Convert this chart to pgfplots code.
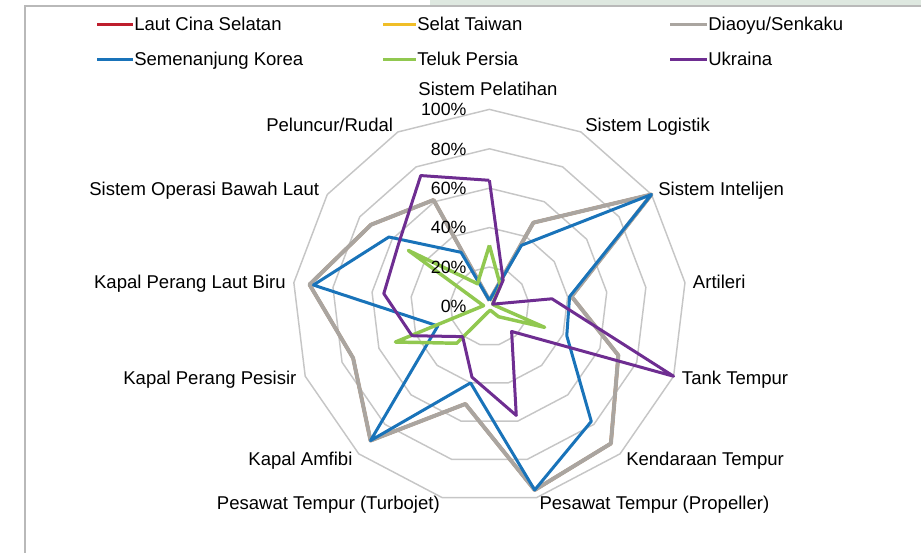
\documentclass[border=0pt]{standalone}
\usepackage{pgfplots}
\pgfplotsset{compat=1.18}
\usepackage{fontspec}
\setmainfont{Liberation Sans}
\definecolor{cRed}{RGB}{190,30,45}
\definecolor{cYel}{RGB}{240,190,40}
\definecolor{cGray}{RGB}{170,165,160}
\definecolor{cBlue}{RGB}{25,115,185}
\definecolor{cGreen}{RGB}{145,200,80}
\definecolor{cPurp}{RGB}{110,45,145}
\definecolor{cRing}{RGB}{198,198,198}
\definecolor{cBorder}{RGB}{185,185,185}
\definecolor{cStrip}{RGB}{222,232,224}
\begin{document}
\begin{tikzpicture}
\useasboundingbox (0,0) rectangle (690.75pt,414.75pt);
\begin{axis}[at={(0,0)}, anchor=south west, scale only axis,
  width=690.75pt, height=414.75pt,
  xmin=-248.43, xmax=219.09, ymin=-125.18, ymax=155.53,
  hide axis, clip=false]
% polygon grid rings
\pgfplotsinvokeforeach{20,40,60,80,100}{
\addplot[data cs=polar, cRing, line width=1.1pt, line join=round] coordinates {
(90,#1)(62.3077,#1)(34.6154,#1)(6.9231,#1)(-20.7692,#1)(-48.4615,#1)(-76.1538,#1)
(-103.8462,#1)(-131.5385,#1)(-159.2308,#1)(-186.9231,#1)(-214.6154,#1)(-242.3077,#1)(-270,#1)};
}
% Laut Cina Selatan
\addplot[data cs=polar, cRed, line width=2.4pt, line join=round] coordinates {
(90,3)(62.3077,48)(34.6154,100)(6.9231,42)(-20.7692,70)(-48.4615,93)(-76.1538,96)
(-103.8462,51)(-131.5385,91)(-159.2308,74)(-186.9231,92)(-214.6154,73)(-242.3077,61)(-270,3)};
% Selat Taiwan
\addplot[data cs=polar, cYel, line width=2.4pt, line join=round] coordinates {
(90,3)(62.3077,48)(34.6154,100)(6.9231,42)(-20.7692,70)(-48.4615,93)(-76.1538,96)
(-103.8462,51)(-131.5385,91)(-159.2308,74)(-186.9231,92)(-214.6154,73)(-242.3077,61)(-270,3)};
% Diaoyu/Senkaku
\addplot[data cs=polar, cGray, line width=3pt, line join=round] coordinates {
(90,3)(62.3077,48)(34.6154,100)(6.9231,42)(-20.7692,70)(-48.4615,93)(-76.1538,96)
(-103.8462,51)(-131.5385,91)(-159.2308,74)(-186.9231,92)(-214.6154,73)(-242.3077,61)(-270,3)};
% Semenanjung Korea
\addplot[data cs=polar, cBlue, line width=2.25pt, line join=round] coordinates {
(90,3)(62.3077,35)(34.6154,100)(6.9231,41)(-20.7692,42)(-48.4615,78)(-76.1538,96)
(-103.8462,40)(-131.5385,91)(-159.2308,28)(-186.9231,90)(-214.6154,62)(-242.3077,31)(-270,3)};
% Teluk Persia
\addplot[data cs=polar, cGreen, line width=2.6pt, line join=round] coordinates {
(90,31)(62.3077,12)(34.6154,2)(6.9231,3)(-20.7692,30)(-48.4615,7)(-76.1538,2)
(-103.8462,3)(-131.5385,25)(-159.2308,51)(-186.9231,3)(-214.6154,50)(-242.3077,13)(-270,31)};
% Ukraina
\addplot[data cs=polar, cPurp, line width=2.25pt, line join=round] coordinates {
(90,64)(62.3077,15)(34.6154,2)(6.9231,32)(-20.7692,100)(-48.4615,17)(-76.1538,57)
(-103.8462,37)(-131.5385,20.5)(-159.2308,42)(-186.9231,54)(-214.6154,56)(-242.3077,75)(-270,64)};
\end{axis}
\begin{scope}[x=0.75pt,y=-0.75pt,shift={(0,414.75pt)}]
% frame
\fill[cStrip] (430,0) rectangle (921,5);
\draw[cBorder, line width=1.5pt] (24.5,553) -- (24.5,6) -- (921,6);
% legend
\tikzset{lg/.style={anchor=base west, inner sep=0pt, font=\fontsize{13.9}{16}\selectfont}}
\draw[cRed, line width=2.6pt] (97,24.3) -- (133,24.3);
\node[lg] at (134,30.8) {Laut Cina Selatan};
\draw[cYel, line width=2.6pt] (383,24.3) -- (416,24.3);
\node[lg] at (417,30.8) {Selat Taiwan};
\draw[cGray, line width=2.6pt] (670,24.3) -- (707,24.3);
\node[lg] at (708,30.8) {Diaoyu/Senkaku};
\draw[cBlue, line width=2.6pt] (97,59.5) -- (133,59.5);
\node[lg] at (134,66) {Semenanjung Korea};
\draw[cGreen, line width=2.6pt] (383,59.5) -- (416,59.5);
\node[lg] at (417,66) {Teluk Persia};
\draw[cPurp, line width=2.6pt] (670,59.5) -- (707,59.5);
\node[lg] at (708,66) {Ukraina};
% category labels
\tikzset{cw/.style={anchor=base west, inner sep=0pt, font=\fontsize{13.9}{16}\selectfont},
         ce/.style={anchor=base east, inner sep=0pt, font=\fontsize{13.9}{16}\selectfont},
         cc/.style={anchor=base, inner sep=0pt, font=\fontsize{13.9}{16}\selectfont}}
\node[cc] at (488,95.5) {Sistem Pelatihan};
\node[cw] at (585,131.5) {Sistem Logistik};
\node[cw] at (658,195.8) {Sistem Intelijen};
\node[cw] at (692.7,288.2) {Artileri};
\node[cw] at (681.7,384.2) {Tank Tempur};
\node[cw] at (626,465.8) {Kendaraan Tempur};
\node[cw] at (539.3,509.8) {Pesawat Tempur (Propeller)};
\node[ce] at (440,509.8) {Pesawat Tempur (Turbojet)};
\node[ce] at (352.7,465.8) {Kapal Amfibi};
\node[ce] at (296.7,384.2) {Kapal Perang Pesisir};
\node[ce] at (286,288.2) {Kapal Perang Laut Biru};
\node[ce] at (319.3,195.8) {Sistem Operasi Bawah Laut};
\node[ce] at (393.3,131.5) {Peluncur/Rudal};
% tick labels
\tikzset{tk/.style={anchor=base east, inner sep=0pt, font=\fontsize{13.3}{15}\selectfont}}
\node[tk] at (466.7,312.7) {0\%};
\node[tk] at (466.7,273.3) {20\%};
\node[tk] at (466.7,233.9) {40\%};
\node[tk] at (466.7,194.5) {60\%};
\node[tk] at (466.7,155.1) {80\%};
\node[tk] at (466.7,115.7) {100\%};
\end{scope}
\end{tikzpicture}
\end{document}
